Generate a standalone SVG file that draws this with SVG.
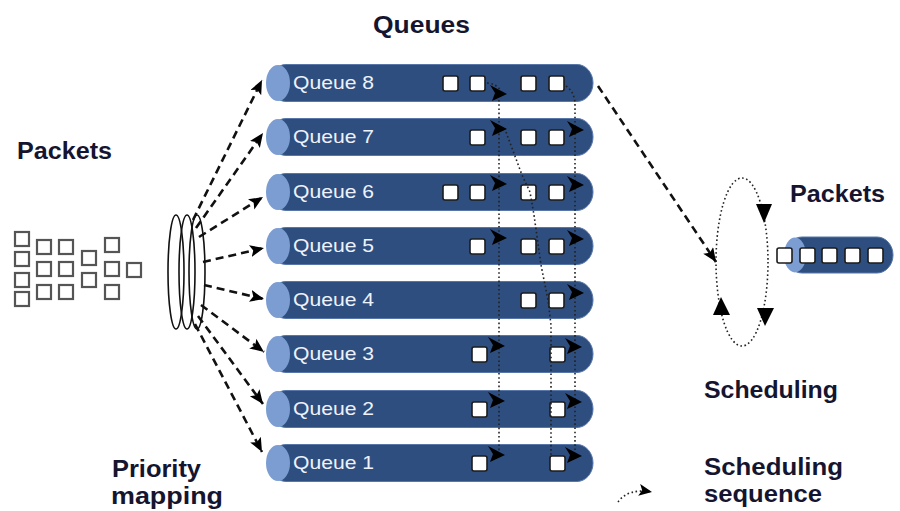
<svg xmlns="http://www.w3.org/2000/svg" xmlns:xlink="http://www.w3.org/1999/xlink" width="900" height="511" viewBox="0 0 900 511">
<style>
.bg{fill:#ffffff}
.bar{fill:#2e4e7f;stroke:#5877a8;stroke-width:1}
.cap{fill:#7b9dd2}
.ql{font-family:"Liberation Sans",Arial,sans-serif;font-size:19px;fill:#eef2fa}
.t{font-family:"Liberation Sans",Arial,sans-serif;font-size:23px;font-weight:bold;fill:#151530}
.sq{fill:#ffffff;stroke:#1c1c1c;stroke-width:1.6}
.pk{fill:#ffffff;stroke:#555555;stroke-width:2.2}
.ring{fill:none;stroke:#111111;stroke-width:1.6}
.dash{fill:none;stroke:#111111;stroke-width:2.6;stroke-dasharray:8 5}
.dot{fill:none;stroke:#222222;stroke-width:1.6;stroke-dasharray:1.6 2.6}
.ah{fill:#000000}
</style>
<defs>
<marker id="arr" markerUnits="userSpaceOnUse" markerWidth="16" markerHeight="14" refX="14" refY="6" orient="auto">
<path d="M0,0 L14,6 L0,12 L3,6 Z" fill="#000"/>
</marker>
<marker id="arrs" markerUnits="userSpaceOnUse" markerWidth="16" markerHeight="14" refX="13" refY="6" orient="auto">
<path d="M0,0 L13,6 L0,12 L3,6 Z" fill="#000"/>
</marker>
<path id="ah" d="M-16,-9 L1,0 L-14,7 L-11,-1 Z"/>
</defs>
<rect class="bg" x="0" y="0" width="900" height="511"/>

<g id="labels">
<text class="t" x="373" y="33" textLength="97" lengthAdjust="spacingAndGlyphs">Queues</text>
<text class="t" x="17" y="159" textLength="95" lengthAdjust="spacingAndGlyphs">Packets</text>
<text class="t" x="790" y="202" textLength="95" lengthAdjust="spacingAndGlyphs">Packets</text>
<text class="t" x="704" y="398" textLength="134" lengthAdjust="spacingAndGlyphs">Scheduling</text>
<text class="t" x="704" y="475" textLength="139" lengthAdjust="spacingAndGlyphs">Scheduling</text>
<text class="t" x="704" y="502" textLength="118" lengthAdjust="spacingAndGlyphs">sequence</text>
<text class="t" x="112" y="477" textLength="89" lengthAdjust="spacingAndGlyphs">Priority</text>
<text class="t" x="111" y="504" textLength="112" lengthAdjust="spacingAndGlyphs">mapping</text>
</g>

<g id="packets-in">
<rect class="pk" x="15" y="232" width="14" height="14"/>
<rect class="pk" x="15" y="252" width="14" height="14"/>
<rect class="pk" x="15" y="273" width="14" height="14"/>
<rect class="pk" x="15" y="292" width="14" height="14"/>
<rect class="pk" x="37" y="240" width="14" height="14"/>
<rect class="pk" x="37" y="262" width="14" height="14"/>
<rect class="pk" x="37" y="285" width="14" height="14"/>
<rect class="pk" x="59" y="240" width="14" height="14"/>
<rect class="pk" x="59" y="262" width="14" height="14"/>
<rect class="pk" x="59" y="285" width="14" height="14"/>
<rect class="pk" x="82" y="251" width="14" height="14"/>
<rect class="pk" x="82" y="273" width="14" height="14"/>
<rect class="pk" x="105" y="238" width="14" height="14"/>
<rect class="pk" x="105" y="262" width="14" height="14"/>
<rect class="pk" x="105" y="285" width="14" height="14"/>
<rect class="pk" x="127" y="263" width="14" height="14"/>
</g>

<g id="priority-mapping">
<ellipse class="ring" cx="176" cy="272" rx="8" ry="57"/>
<ellipse class="ring" cx="187" cy="272" rx="8" ry="57"/>
<ellipse class="ring" cx="197" cy="272" rx="8" ry="57"/>
</g>

<g id="q8">
<rect class="bar" x="270" y="64.5" width="323" height="37" rx="16" ry="18.5"/>
<ellipse class="cap" cx="278" cy="83" rx="12" ry="18"/>
<text class="ql" x="293" y="89" textLength="81" lengthAdjust="spacingAndGlyphs">Queue 8</text>
<rect class="sq" x="443" y="76" width="15" height="15" rx="2"/>
<rect class="sq" x="470" y="76" width="15" height="15" rx="2"/>
<rect class="sq" x="521" y="76" width="15" height="15" rx="2"/>
<rect class="sq" x="549" y="76" width="15" height="15" rx="2"/>
</g>
<g id="q7">
<rect class="bar" x="270" y="118.5" width="323" height="37" rx="16" ry="18.5"/>
<ellipse class="cap" cx="278" cy="137" rx="12" ry="18"/>
<text class="ql" x="293" y="143" textLength="81" lengthAdjust="spacingAndGlyphs">Queue 7</text>
<rect class="sq" x="470" y="130" width="15" height="15" rx="2"/>
<rect class="sq" x="521" y="130" width="15" height="15" rx="2"/>
<rect class="sq" x="549" y="130" width="15" height="15" rx="2"/>
</g>
<g id="q6">
<rect class="bar" x="270" y="173.5" width="323" height="37" rx="16" ry="18.5"/>
<ellipse class="cap" cx="278" cy="192" rx="12" ry="18"/>
<text class="ql" x="293" y="198" textLength="81" lengthAdjust="spacingAndGlyphs">Queue 6</text>
<rect class="sq" x="443" y="185" width="15" height="15" rx="2"/>
<rect class="sq" x="470" y="185" width="15" height="15" rx="2"/>
<rect class="sq" x="521" y="185" width="15" height="15" rx="2"/>
<rect class="sq" x="549" y="185" width="15" height="15" rx="2"/>
</g>
<g id="q5">
<rect class="bar" x="270" y="227.5" width="323" height="37" rx="16" ry="18.5"/>
<ellipse class="cap" cx="278" cy="246" rx="12" ry="18"/>
<text class="ql" x="293" y="252" textLength="81" lengthAdjust="spacingAndGlyphs">Queue 5</text>
<rect class="sq" x="470" y="239" width="15" height="15" rx="2"/>
<rect class="sq" x="521" y="239" width="15" height="15" rx="2"/>
<rect class="sq" x="549" y="239" width="15" height="15" rx="2"/>
</g>
<g id="q4">
<rect class="bar" x="270" y="281.5" width="323" height="37" rx="16" ry="18.5"/>
<ellipse class="cap" cx="278" cy="300" rx="12" ry="18"/>
<text class="ql" x="293" y="306" textLength="81" lengthAdjust="spacingAndGlyphs">Queue 4</text>
<rect class="sq" x="521" y="293" width="15" height="15" rx="2"/>
<rect class="sq" x="549" y="293" width="15" height="15" rx="2"/>
</g>
<g id="q3">
<rect class="bar" x="270" y="335.5" width="323" height="37" rx="16" ry="18.5"/>
<ellipse class="cap" cx="278" cy="354" rx="12" ry="18"/>
<text class="ql" x="293" y="360" textLength="81" lengthAdjust="spacingAndGlyphs">Queue 3</text>
<rect class="sq" x="472" y="347" width="15" height="15" rx="2"/>
<rect class="sq" x="550" y="347" width="15" height="15" rx="2"/>
</g>
<g id="q2">
<rect class="bar" x="270" y="390.5" width="323" height="37" rx="16" ry="18.5"/>
<ellipse class="cap" cx="278" cy="409" rx="12" ry="18"/>
<text class="ql" x="293" y="415" textLength="81" lengthAdjust="spacingAndGlyphs">Queue 2</text>
<rect class="sq" x="472" y="402" width="15" height="15" rx="2"/>
<rect class="sq" x="550" y="402" width="15" height="15" rx="2"/>
</g>
<g id="q1">
<rect class="bar" x="270" y="444.5" width="323" height="37" rx="16" ry="18.5"/>
<ellipse class="cap" cx="278" cy="463" rx="12" ry="18"/>
<text class="ql" x="293" y="469" textLength="81" lengthAdjust="spacingAndGlyphs">Queue 1</text>
<rect class="sq" x="472" y="456" width="15" height="15" rx="2"/>
<rect class="sq" x="550" y="456" width="15" height="15" rx="2"/>
</g>

<g id="output-queue">
<rect class="bar" x="786" y="237" width="107" height="36" rx="16" ry="18"/>
<ellipse class="cap" cx="795" cy="255" rx="11" ry="17.5"/>
<rect class="sq" x="777" y="248" width="15" height="15" rx="2"/>
<rect class="sq" x="800" y="248" width="15" height="15" rx="2"/>
<rect class="sq" x="822" y="248" width="15" height="15" rx="2"/>
<rect class="sq" x="845" y="248" width="15" height="15" rx="2"/>
<rect class="sq" x="868" y="248" width="15" height="15" rx="2"/>
</g>

<g id="connectors">
<path class="dash" marker-end="url(#arr)" d="M193,220 L262,80"/>
<path class="dash" marker-end="url(#arr)" d="M196,228 L263,133"/>
<path class="dash" marker-end="url(#arr)" d="M199,237 L263,197"/>
<path class="dash" marker-end="url(#arr)" d="M203,262 L264,248"/>
<path class="dash" marker-end="url(#arr)" d="M204,285 L264,299"/>
<path class="dash" marker-end="url(#arr)" d="M201,305 L264,352"/>
<path class="dash" marker-end="url(#arr)" d="M198,316 L263,404"/>
<path class="dash" marker-end="url(#arr)" d="M195,324 L262,452"/>
<path class="dash" marker-end="url(#arr)" d="M598,86 L716,262"/>

<path class="dot" d="M499,100 L499,455"/>
<path class="dot" d="M506,132 L522,175 L530,192 L534,215 L541,265 L548,300 L551,325 L551,456"/>
<path class="dot" d="M566,86 Q575,92 575,105 L575,456"/>
<path class="dot" d="M487,83 Q497,84 500,90"/>

<use href="#ah" class="ah" x="506" y="94"/>
<use href="#ah" class="ah" x="506" y="129"/>
<use href="#ah" class="ah" x="506" y="184"/>
<use href="#ah" class="ah" x="506" y="238"/>
<use href="#ah" class="ah" x="504" y="346"/>
<use href="#ah" class="ah" x="504" y="401"/>
<use href="#ah" class="ah" x="504" y="455"/>
<use href="#ah" class="ah" x="583" y="130"/>
<use href="#ah" class="ah" x="583" y="185"/>
<use href="#ah" class="ah" x="583" y="239"/>
<use href="#ah" class="ah" x="583" y="293"/>
<use href="#ah" class="ah" x="581" y="347"/>
<use href="#ah" class="ah" x="581" y="402"/>
<use href="#ah" class="ah" x="581" y="456"/>

<ellipse class="dot" cx="742" cy="262" rx="26" ry="84"/>
<path class="ah" d="M756,204 L772,204 L764,223 Z"/>
<path class="ah" d="M713,315 L730,315 L721,297 Z"/>
<path class="ah" d="M757,308 L774,308 L765,326 Z"/>

<path class="dot" marker-end="url(#arrs)" d="M618,502 Q628,488 652,492"/>
</g>
</svg>
